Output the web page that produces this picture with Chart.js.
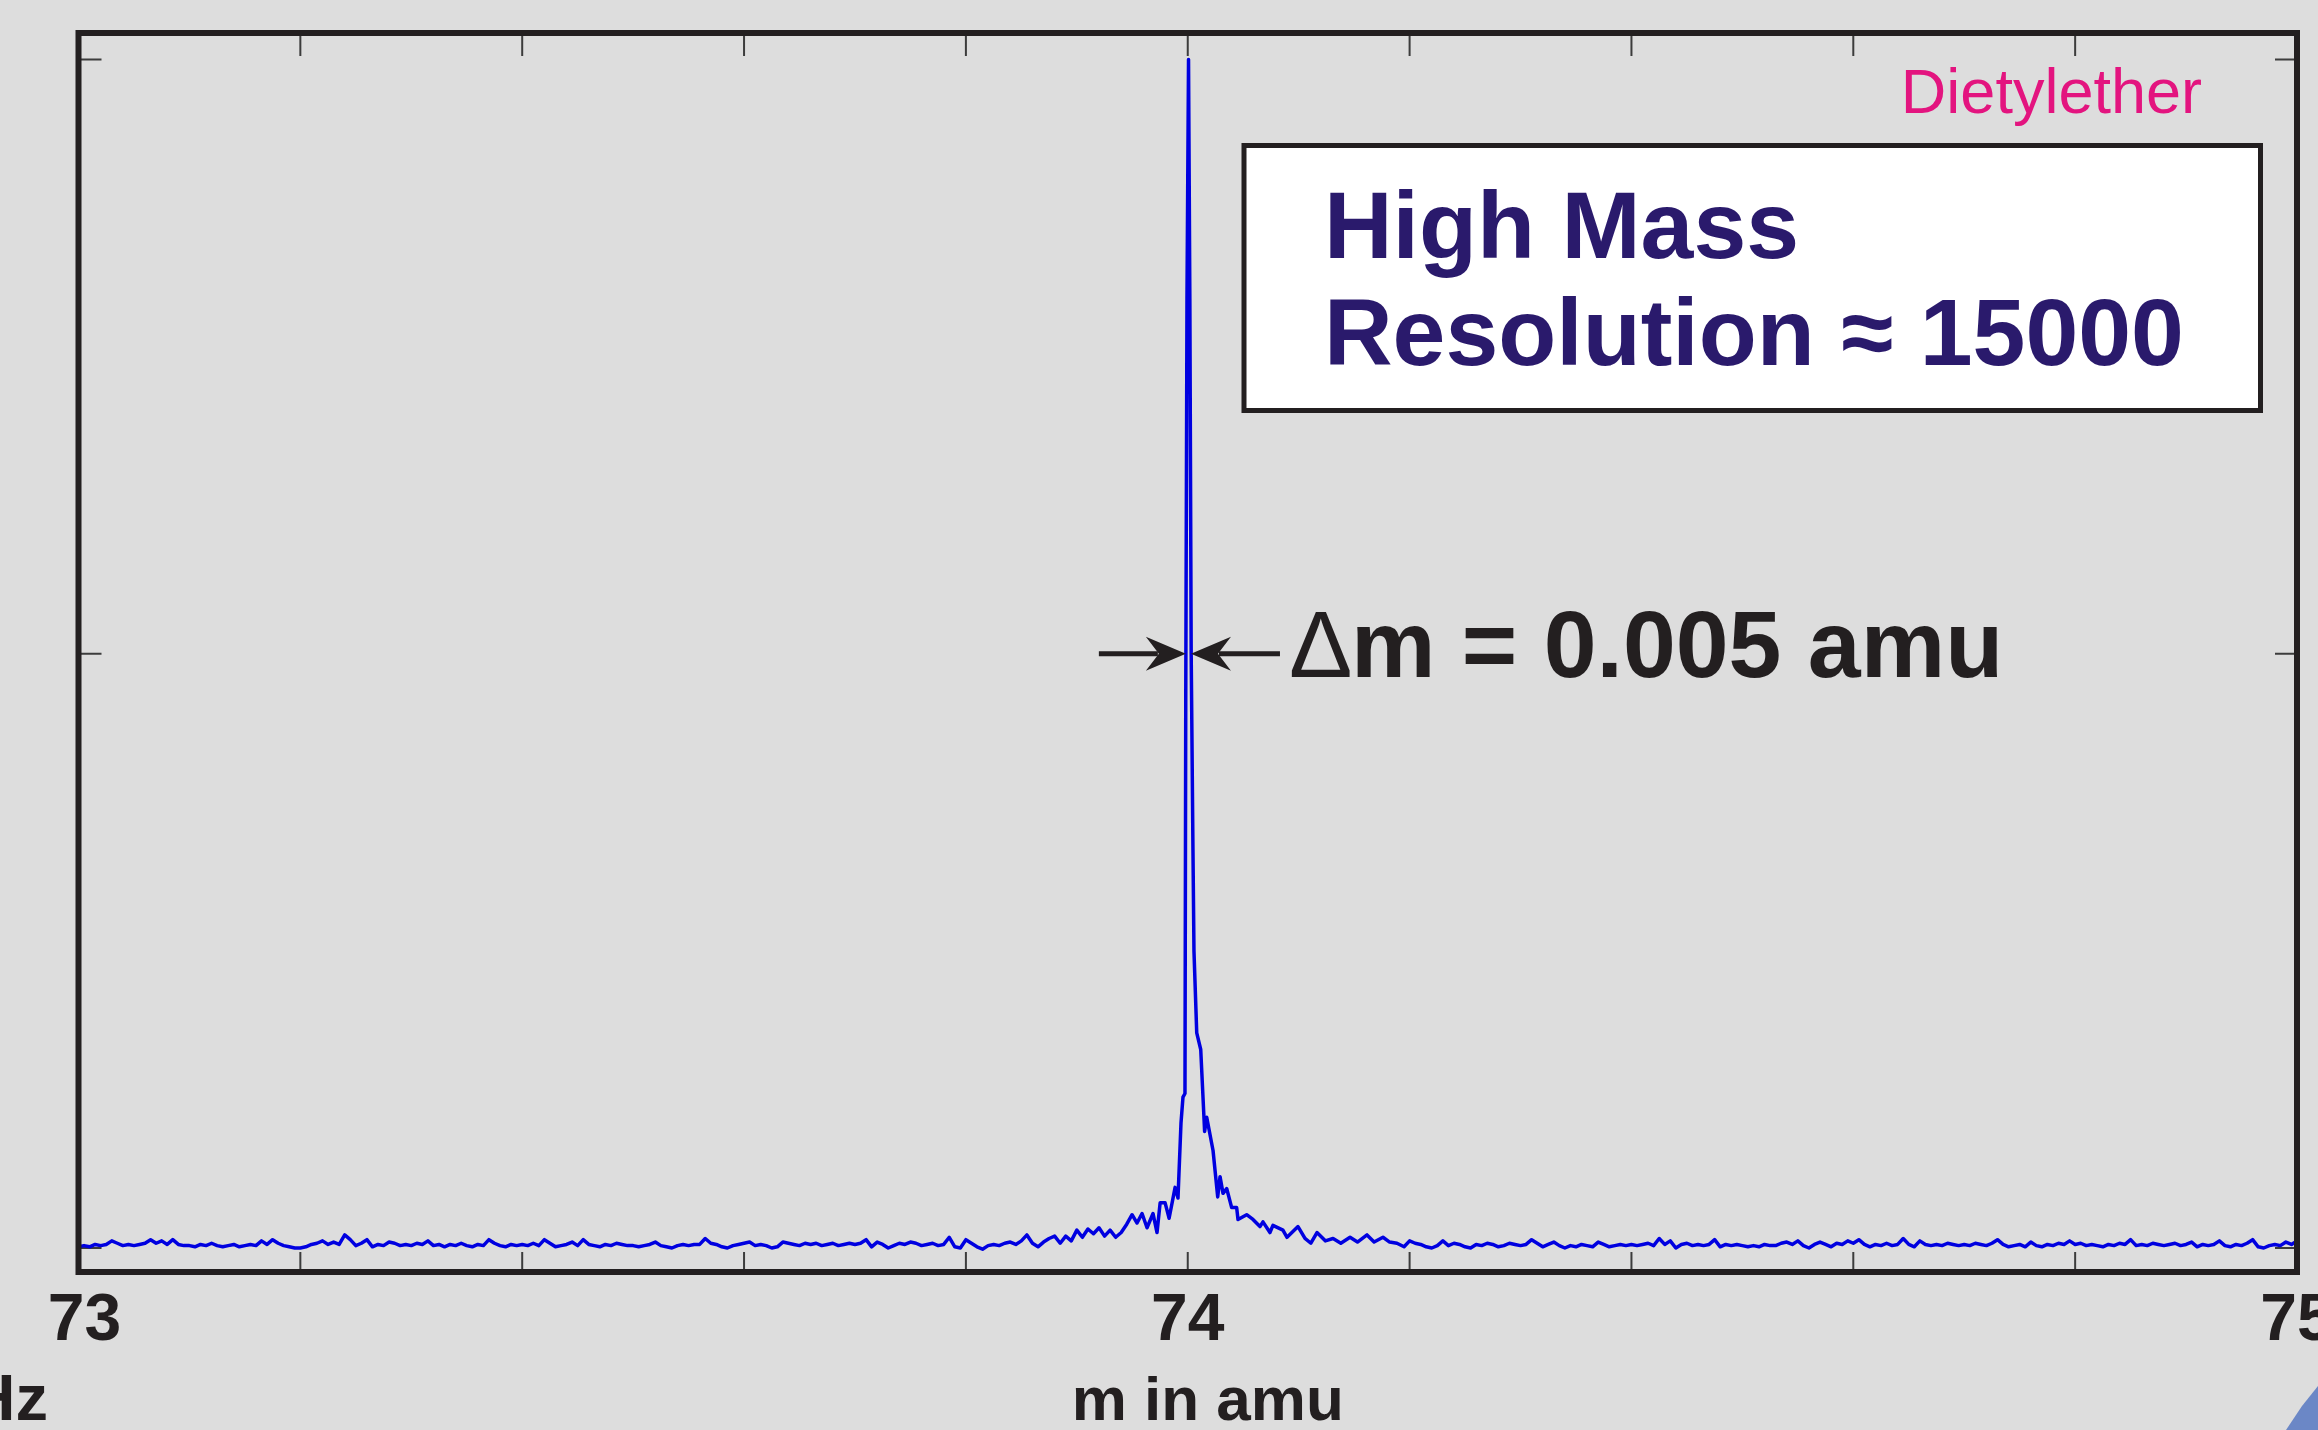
<!DOCTYPE html>
<html>
<head>
<meta charset="utf-8">
<title>Dietylether - high mass resolution</title>
<script src="https://cdn.jsdelivr.net/npm/chart.js@4.4.1/dist/chart.umd.min.js"></script>
<style>
  html, body { margin: 0; padding: 0; background: #dddddd; }
  #wrap { width: 2318px; height: 1430px; }
</style>
</head>
<body>
<div id="wrap"><canvas id="massChart" width="2318" height="1430"></canvas></div>
<script>
// mass scale in amu, intensity in arbitrary units (peak top = 1000)

// baseline left of the peak
const massBaseLeft = [
  73.000, 73.005, 73.010, 73.015, 73.020, 73.025, 73.030, 73.035, 73.040, 73.045, 73.050, 73.055, 73.060, 73.065, 73.070, 73.075, 73.080, 73.085, 73.090, 73.095,
  73.100, 73.105, 73.110, 73.115, 73.120, 73.125, 73.130, 73.135, 73.140, 73.145, 73.150, 73.155, 73.160, 73.165, 73.170, 73.175, 73.180, 73.185, 73.190, 73.195,
  73.200, 73.205, 73.210, 73.215, 73.220, 73.225, 73.230, 73.235, 73.240, 73.245, 73.250, 73.255, 73.260, 73.265, 73.270, 73.275, 73.280, 73.285, 73.290, 73.295,
  73.300, 73.305, 73.310, 73.315, 73.320, 73.325, 73.330, 73.335, 73.340, 73.345, 73.350, 73.355, 73.360, 73.365, 73.370, 73.375, 73.380, 73.385, 73.390, 73.395,
  73.400, 73.405, 73.410, 73.415, 73.420, 73.425, 73.430, 73.435, 73.440, 73.445, 73.450, 73.455, 73.460, 73.465, 73.470, 73.475, 73.480, 73.485, 73.490, 73.495,
  73.500, 73.505, 73.510, 73.515, 73.520, 73.525, 73.530, 73.535, 73.540, 73.545, 73.550, 73.555, 73.560, 73.565, 73.570, 73.575, 73.580, 73.585, 73.590, 73.595,
  73.600, 73.605, 73.610, 73.615, 73.620, 73.625, 73.630, 73.635, 73.640, 73.645, 73.650, 73.655, 73.660, 73.665, 73.670, 73.675, 73.680, 73.685, 73.690, 73.695,
  73.700, 73.705, 73.710, 73.715, 73.720, 73.725, 73.730, 73.735, 73.740, 73.745, 73.750, 73.755, 73.760, 73.765, 73.770, 73.775, 73.780, 73.785, 73.790, 73.795,
  73.800, 73.805, 73.810, 73.815, 73.820, 73.825, 73.830, 73.835, 73.840, 73.845, 73.850, 73.855, 73.860, 73.865, 73.870, 73.875, 73.880, 73.885, 73.890, 73.895,
  73.900, 73.905, 73.910, 73.915, 73.920, 73.925, 73.930, 73.935, 73.940, 73.945
];
const intensityBaseLeft = [
  1, 2, 1, 3, 2, 3, 6, 4, 2, 3, 2, 3, 4, 7, 4, 6, 3, 7, 3, 2,
  2, 1, 3, 2, 4, 2, 1, 2, 3, 1, 2, 3, 2, 6, 3, 7, 4, 2, 1, 0,
  0, 1, 3, 4, 6, 3, 5, 3, 11, 7, 2, 4, 7, 1, 3, 2, 5, 4, 2, 3,
  2, 4, 3, 6, 2, 3, 1, 3, 2, 4, 2, 1, 3, 2, 7, 4, 2, 1, 3, 2,
  3, 2, 4, 2, 7, 4, 1, 2, 3, 5, 2, 7, 3, 2, 1, 3, 2, 4, 3, 2,
  2, 1, 2, 3, 5, 2, 1, 0, 2, 3, 2, 3, 3, 8, 4, 3, 1, 0, 2, 3,
  4, 5, 2, 3, 2, 0, 1, 5, 4, 3, 2, 4, 3, 4, 2, 3, 4, 2, 3, 4,
  3, 4, 7, 1, 5, 3, 0, 2, 4, 3, 5, 4, 2, 3, 4, 2, 3, 9, 1, 0,
  7, 4, 1, -1, 2, 3, 2, 4, 5, 3, 6, 11, 4, 1, 5, 8, 10, 4, 10, 6,
  15, 9, 16, 12, 17, 10, 15, 9, 13, 20
];

// the m = 74 peak itself, read point by point
const massPeak = [
  73.9498, 73.9543, 73.9588, 73.9633, 73.9687, 73.9723, 73.9751, 73.9796, 73.9832, 73.9886,
  73.9912, 73.9939, 73.9957, 73.9975, 73.9982, 73.9993, 74.0007, 74.0019, 74.0031, 74.0047,
  74.0056, 74.0081, 74.0117, 74.0146, 74.0152, 74.0171, 74.0228, 74.0270, 74.0291, 74.0318,
  74.0351, 74.0396, 74.0441, 74.0453, 74.0531, 74.0588, 74.0651, 74.0678, 74.0741, 74.0768,
  74.0858, 74.0895, 74.0994, 74.1057, 74.1110, 74.1165, 74.1240, 74.1310, 74.1380, 74.1463,
  74.1530, 74.1616, 74.1680, 74.1760, 74.1820, 74.1886
];
const intensityPeak = [
  28, 21, 29, 17, 29, 13, 38, 38, 25, 51,
  42, 105, 127, 130, 461, 798, 1000, 798, 500, 335,
  250, 181, 167, 110, 98, 110, 82, 43, 60, 46,
  50, 34, 34, 24, 28, 24, 18, 22, 13, 19,
  15, 9, 18, 8, 4, 13, 6, 8, 4, 9,
  5, 11, 5, 9, 5, 4
];

// baseline right of the peak
const massBaseRight = [
  74.195, 74.200, 74.205, 74.210, 74.215, 74.220, 74.225, 74.230, 74.235, 74.240, 74.245, 74.250, 74.255, 74.260, 74.265, 74.270, 74.275, 74.280, 74.285, 74.290, 74.295,
  74.300, 74.305, 74.310, 74.315, 74.320, 74.325, 74.330, 74.335, 74.340, 74.345, 74.350, 74.355, 74.360, 74.365, 74.370, 74.375, 74.380, 74.385, 74.390, 74.395,
  74.400, 74.405, 74.410, 74.415, 74.420, 74.425, 74.430, 74.435, 74.440, 74.445, 74.450, 74.455, 74.460, 74.465, 74.470, 74.475, 74.480, 74.485, 74.490, 74.495,
  74.500, 74.505, 74.510, 74.515, 74.520, 74.525, 74.530, 74.535, 74.540, 74.545, 74.550, 74.555, 74.560, 74.565, 74.570, 74.575, 74.580, 74.585, 74.590, 74.595,
  74.600, 74.605, 74.610, 74.615, 74.620, 74.625, 74.630, 74.635, 74.640, 74.645, 74.650, 74.655, 74.660, 74.665, 74.670, 74.675, 74.680, 74.685, 74.690, 74.695,
  74.700, 74.705, 74.710, 74.715, 74.720, 74.725, 74.730, 74.735, 74.740, 74.745, 74.750, 74.755, 74.760, 74.765, 74.770, 74.775, 74.780, 74.785, 74.790, 74.795,
  74.800, 74.805, 74.810, 74.815, 74.820, 74.825, 74.830, 74.835, 74.840, 74.845, 74.850, 74.855, 74.860, 74.865, 74.870, 74.875, 74.880, 74.885, 74.890, 74.895,
  74.900, 74.905, 74.910, 74.915, 74.920, 74.925, 74.930, 74.935, 74.940, 74.945, 74.950, 74.955, 74.960, 74.965, 74.970, 74.975, 74.980, 74.985, 74.990, 74.995, 75.000
];
const intensityBaseRight = [
  1, 6, 4, 3, 1, 0, 2, 6, 2, 4, 3, 1, 0, 3, 2, 4, 3, 1, 2, 4, 3,
  2, 3, 7, 4, 1, 3, 5, 2, 0, 2, 1, 3, 2, 1, 5, 3, 1, 2, 3, 2,
  3, 2, 3, 4, 2, 8, 3, 6, 0, 3, 4, 2, 3, 2, 3, 7, 1, 3, 2, 3,
  2, 1, 2, 1, 3, 2, 2, 4, 5, 3, 6, 2, 0, 3, 5, 3, 1, 4, 3, 6,
  4, 7, 3, 1, 3, 2, 4, 2, 3, 8, 3, 1, 6, 3, 2, 3, 2, 4, 3, 2,
  3, 2, 4, 3, 2, 4, 7, 3, 1, 2, 3, 1, 5, 2, 1, 3, 2, 4, 3, 6,
  3, 4, 2, 3, 2, 1, 3, 2, 4, 3, 7, 2, 3, 2, 4, 3, 2, 3, 4, 2,
  3, 5, 1, 3, 2, 3, 6, 2, 1, 3, 2, 4, 7, 1, 0, 2, 3, 2, 5, 3, 6
];

// axes
const massRange = [73, 75];
const intensityRange = [-20.2, 1022.3];
const massTickLabels = ['73', '74', '75'];
const massLabelValues = [73, 74, 75];
const massMinorTicks = [73.2, 73.4, 73.6, 73.8, 74.0, 74.2, 74.4, 74.6, 74.8];
const intensityTicks = [0, 500, 1000];

// full width at half maximum markers
const fwhmEdges = [73.9983, 74.0029];
const halfMax = 500;

const points = [];
massBaseLeft.forEach((m, i) => points.push({ x: m, y: intensityBaseLeft[i] }));
massPeak.forEach((m, i) => points.push({ x: m, y: intensityPeak[i] }));
massBaseRight.forEach((m, i) => points.push({ x: m, y: intensityBaseRight[i] }));

const INK = '#231f20';
const FONT = '"Liberation Sans", Arial, Helvetica, sans-serif';

function arrowHead(ctx, tipX, y, dir) {
    // dir = +1 points right, -1 points left
    ctx.beginPath();
    ctx.moveTo(tipX, y);
    ctx.lineTo(tipX - dir * 40, y - 17);
    ctx.lineTo(tipX - dir * 27, y);
    ctx.lineTo(tipX - dir * 40, y + 17);
    ctx.closePath();
    ctx.fill();
}

const spectrumDecor = {
    id: 'spectrumDecor',
    beforeDatasetsDraw(chart) {
        const { ctx, chartArea: a, scales: { x, y } } = chart;
        ctx.save();
        ctx.strokeStyle = '#3c3c3c';
        ctx.lineWidth = 2;
        ctx.beginPath();
        massMinorTicks.forEach(m => {
            const px = x.getPixelForValue(m);
            ctx.moveTo(px, a.bottom);
            ctx.lineTo(px, a.bottom - 20);
            ctx.moveTo(px, a.top);
            ctx.lineTo(px, a.top + 23);
        });
        intensityTicks.forEach(v => {
            const py = y.getPixelForValue(v);
            ctx.moveTo(a.left, py);
            ctx.lineTo(a.left + 23, py);
            ctx.moveTo(a.right, py);
            ctx.lineTo(a.right - 22, py);
        });
        ctx.stroke();
        ctx.restore();
    },
    afterDraw(chart) {
        const { ctx, chartArea: a, scales: { x, y } } = chart;
        ctx.save();

        // frame
        ctx.strokeStyle = INK;
        ctx.lineWidth = 6;
        ctx.strokeRect(a.left, a.top, a.right - a.left, a.bottom - a.top);

        // tick labels + axis title
        ctx.fillStyle = INK;
        ctx.textBaseline = 'alphabetic';
        ctx.textAlign = 'center';
        ctx.font = 'bold 66px ' + FONT;
        massLabelValues.forEach((m, i) => {
            const nudge = i === 0 ? 6 : 0;
            ctx.fillText(massTickLabels[i], x.getPixelForValue(m) + nudge, a.bottom + 68);
        });
        ctx.font = 'bold 62px ' + FONT;
        ctx.fillText('m in amu', (a.left + a.right) / 2 + 20, a.bottom + 148);

        // cut-off label from the neighbouring panel
        ctx.textAlign = 'right';
        ctx.font = 'bold 65px ' + FONT;
        ctx.fillText('Hz', 48, a.bottom + 148);

        // sample name
        ctx.fillStyle = '#e3147f';
        ctx.font = '63px ' + FONT;
        ctx.fillText('Dietylether', a.right - 95, 113);

        // resolution box
        ctx.fillStyle = '#ffffff';
        ctx.fillRect(1244, 145.5, 1016.5, 265);
        ctx.strokeStyle = INK;
        ctx.lineWidth = 5;
        ctx.strokeRect(1244, 145.5, 1016.5, 265);
        ctx.fillStyle = '#2a1a6c';
        ctx.textAlign = 'left';
        ctx.font = 'bold 95px ' + FONT;
        ctx.fillText('High Mass', 1324, 258);
        ctx.fillText('Resolution \u2248 15000', 1324, 365);

        // FWHM arrows
        const yHalf = y.getPixelForValue(halfMax);
        const tipL = x.getPixelForValue(fwhmEdges[0]);
        const tipR = x.getPixelForValue(fwhmEdges[1]);
        ctx.strokeStyle = INK;
        ctx.fillStyle = INK;
        ctx.lineWidth = 5;
        ctx.beginPath();
        ctx.moveTo(tipL - 87, yHalf);
        ctx.lineTo(tipL - 28, yHalf);
        ctx.moveTo(tipR + 28, yHalf);
        ctx.lineTo(tipR + 89, yHalf);
        ctx.stroke();
        arrowHead(ctx, tipL, yHalf, 1);
        arrowHead(ctx, tipR, yHalf, -1);

        ctx.font = '95px ' + FONT;
        ctx.fillText('\u0394', tipR + 98, yHalf + 23);
        ctx.font = 'bold 95px ' + FONT;
        ctx.fillText('m = 0.005 amu', tipR + 160, yHalf + 23);

        // slide decoration in the lower right corner
        ctx.fillStyle = '#6b87c6';
        ctx.beginPath();
        ctx.moveTo(2318, 1386);
        ctx.lineTo(2302, 1406);
        ctx.lineTo(2286, 1430);
        ctx.lineTo(2318, 1430);
        ctx.closePath();
        ctx.fill();

        ctx.restore();
    }
};

const ctx = document.getElementById('massChart').getContext('2d');

new Chart(ctx, {
    type: 'line',
    data: {
        datasets: [{
            label: 'Dietylether',
            data: points,
            borderColor: '#0000e0',
            borderWidth: 3.5,
            borderJoinStyle: 'round',
            pointRadius: 0,
            tension: 0,
            fill: false
        }]
    },
    options: {
        responsive: false,
        animation: false,
        layout: { padding: { left: 78.5, right: 21, top: 33, bottom: 158 } },
        plugins: {
            legend: { display: false },
            tooltip: { enabled: false }
        },
        scales: {
            x: { type: 'linear', min: massRange[0], max: massRange[1], display: false },
            y: { type: 'linear', min: intensityRange[0], max: intensityRange[1], display: false }
        }
    },
    plugins: [spectrumDecor]
});
</script>
</body>
</html>
